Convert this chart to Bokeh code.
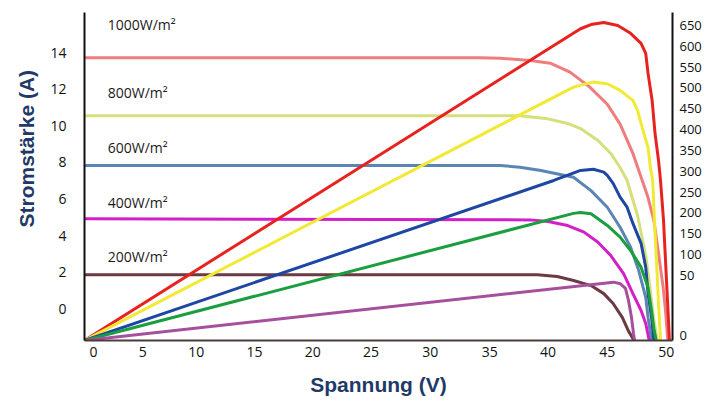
from bokeh.plotting import figure
from bokeh.models import Range1d, LinearAxis, FixedTicker, Title
from bokeh.embed import file_html
from bokeh.resources import INLINE
from bokeh.core.properties import value

# ---- data (voltage V, current A on left scale, power W on right scale) ----
V_1000_I = [0, 34.0, 35.7, 38.3, 40.0, 41.7, 43.4, 44.9, 46.0, 47.1, 47.9, 48.4, 48.9, 49.3, 49.7, 49.9, 50.1]
I_1000 = [13.72, 13.72, 13.69, 13.57, 13.42, 12.93, 12.11, 11.18, 10.09, 8.49, 7.01, 6.08, 4.83, 3.02, 1.16, -0.09, -1.73]
V_800_I = [0, 35.7, 37.4, 39.8, 41.5, 42.6, 44.1, 45.2, 46.0, 46.6, 47.5, 48.2, 48.6, 48.9, 49.2]
I_800 = [10.55, 10.55, 10.55, 10.38, 10.13, 9.85, 9.20, 8.49, 7.72, 7.01, 5.10, 2.91, 1.0, -0.64, -1.73]
V_600_I = [0, 35.7, 37.4, 39.2, 42.0, 43.5, 44.9, 46.0, 46.9, 47.6, 48.2, 48.4, 48.7]
I_600 = [7.83, 7.83, 7.74, 7.56, 7.19, 6.46, 5.55, 4.46, 3.37, 2.09, 0.63, -0.46, -1.73]
V_400_I = [0, 38.3, 39.8, 41.5, 42.9, 44.1, 45.2, 46.3, 47.1, 47.8, 48.2, 48.5]
I_400 = [4.92, 4.86, 4.77, 4.55, 4.19, 3.64, 2.91, 1.93, 0.83, -0.09, -0.80, -1.73]
V_200_I = [0, 38.9, 40.6, 42.0, 43.5, 44.6, 45.4, 46.2, 46.7, 47.2]
I_200 = [1.86, 1.86, 1.77, 1.55, 1.27, 0.83, 0.29, -0.48, -1.19, -1.73]

V_1000_P = [0, 42.6, 43.5, 44.6, 45.8, 46.9, 47.8, 48.2, 48.4, 48.75, 49.0, 49.3, 49.47, 49.73, 49.9, 50.07, 50.24]
P_1000 = [-106, 642, 652, 657, 650, 631, 607, 583, 535, 470, 391, 326, 278, 182, 86, -10, -106]
V_800_P = [0, 42.0, 43.2, 43.7, 44.9, 46.0, 47.1, 47.5, 47.9, 48.4, 48.6, 48.8, 48.95, 49.12, 49.29, 49.47]
P_800 = [-106, 502, 511, 514, 510, 494, 470, 446, 405, 357, 309, 278, 182, 86, -10, -106]
V_600_P = [0, 40.3, 42.6, 43.7, 44.6, 44.9, 45.4, 46.0, 46.6, 47.1, 47.8, 48.2, 48.4, 48.7, 48.9]
P_600 = [-106, 278, 302, 305, 298, 290, 271, 238, 214, 175, 127, 70, 7, -50, -106]
V_400_P = [0, 42.0, 42.6, 43.5, 44.1, 44.9, 46.0, 46.9, 47.8, 48.4, 48.7, 48.9, 49.1]
P_400 = [-106, 199, 201, 198, 186, 170, 142, 110, 70, 21, -34, -77, -106]
V_200_P = [0, 45.43, 46.03, 46.46, 46.72, 46.98, 47.15, 47.24]
P_200 = [-106, 34, 30, 19, -10, -51, -89, -106]

irradiance_labels = ["1000W/m²", "800W/m²", "600W/m²", "400W/m²", "200W/m²"]
label_x = [2.0, 2.0, 2.0, 2.0, 2.0]
label_y = [15.52, 11.82, 8.82, 5.79, 2.86]

x_tick_pos = [0.78, 5, 9.6, 14.6, 19.6, 24.6, 29.7, 34.8, 39.8, 44.9, 49.96]
x_tick_labels = ["0", "5", "10", "15", "20", "25", "30", "35", "40", "45", "50"]
y_left_ticks = [0, 2, 4, 6, 8, 10, 12, 14]
y_right_tick_pos = [-94, 50, 100, 150, 200, 250, 300, 350, 400, 450, 500, 550, 600, 650]
y_right_tick_labels = ["0", "50", "100", "150", "200", "250", "300", "350", "400", "450", "500", "550", "600", "650"]

current_colors = ["#f07d7d", "#d5e07c", "#5b86b4", "#d41fc6", "#6b3a42"]
power_colors = ["#e8231f", "#f2e935", "#1d47a3", "#1a9e3f", "#a6509d"]

FONT = "Open Sans"
TITLE_COLOR = "#1f3a66"

p = figure(width=704, height=405, output_backend="svg", toolbar_location=None,
           x_range=Range1d(0, 50.5), y_range=Range1d(-1.73, 16.19),
           min_border_left=84, min_border_right=32, min_border_top=12, min_border_bottom=65)
p.extra_y_ranges = {"power": Range1d(-106, 681)}
p.outline_line_color = None
p.xgrid.visible = False
p.ygrid.visible = False
p.background_fill_color = "white"
p.border_fill_color = "white"

currents = [(V_1000_I, I_1000), (V_800_I, I_800), (V_600_I, I_600), (V_400_I, I_400), (V_200_I, I_200)]
powers = [(V_1000_P, P_1000), (V_800_P, P_800), (V_600_P, P_600), (V_400_P, P_400), (V_200_P, P_200)]

for (vx, iy), c in zip(currents, current_colors):
    p.line(vx, iy, line_color=c, line_width=3, line_join="round")
for (vx, py), c in zip(powers, power_colors):
    p.line(vx, py, line_color=c, line_width=3, line_join="round", y_range_name="power")

p.text(x=label_x, y=label_y, text=irradiance_labels, text_font=value(FONT),
       text_font_size="14px", text_baseline="middle", text_align="left", text_color="#1a1a1a")

# bottom axis
xa = p.xaxis[0]
xa.ticker = FixedTicker(ticks=x_tick_pos)
xa.major_label_overrides = {t: l for t, l in zip(x_tick_pos, x_tick_labels)}
xa.major_tick_line_color = None
xa.minor_tick_line_color = None
xa.major_tick_in = 0
xa.major_tick_out = 0
xa.axis_line_color = "#4a3c3c"
xa.axis_line_width = 2
xa.major_label_text_font = FONT
xa.major_label_text_font_size = "14px"
xa.major_label_text_color = "#111111"
xa.major_label_standoff = 6
xa.axis_label = "Spannung (V)"
xa.axis_label_text_font = "Liberation Sans"
xa.axis_label_text_font_style = "bold"
xa.axis_label_text_font_size = "21px"
xa.axis_label_text_color = TITLE_COLOR
xa.axis_label_standoff = 13

# left axis
ya = p.yaxis[0]
ya.ticker = FixedTicker(ticks=y_left_ticks)
ya.major_tick_line_color = None
ya.minor_tick_line_color = None
ya.major_tick_in = 0
ya.major_tick_out = 0
ya.axis_line_color = "#111111"
ya.axis_line_width = 2
ya.major_label_text_font = FONT
ya.major_label_text_font_size = "14px"
ya.major_label_text_color = "#111111"
ya.major_label_standoff = 18

# right axis
ra = LinearAxis(y_range_name="power")
ra.ticker = FixedTicker(ticks=y_right_tick_pos)
ra.major_label_overrides = {t: l for t, l in zip(y_right_tick_pos, y_right_tick_labels)}
ra.major_tick_line_color = None
ra.minor_tick_line_color = None
ra.major_tick_in = 0
ra.major_tick_out = 0
ra.axis_line_color = "#111111"
ra.axis_line_width = 2
ra.major_label_text_font = FONT
ra.major_label_text_font_size = "13px"
ra.major_label_text_color = "#111111"
ra.major_label_standoff = 7
p.add_layout(ra, "right")

# left title (placed like the reference, above centre)
lt = Title(text="Stromstärke (A)", align="left", offset=113,
           text_font="Liberation Sans", text_font_style="bold", text_font_size="21px",
           text_color=TITLE_COLOR, standoff=20)
p.add_layout(lt, "left")

open("out.html", "w").write(file_html(p, INLINE))
